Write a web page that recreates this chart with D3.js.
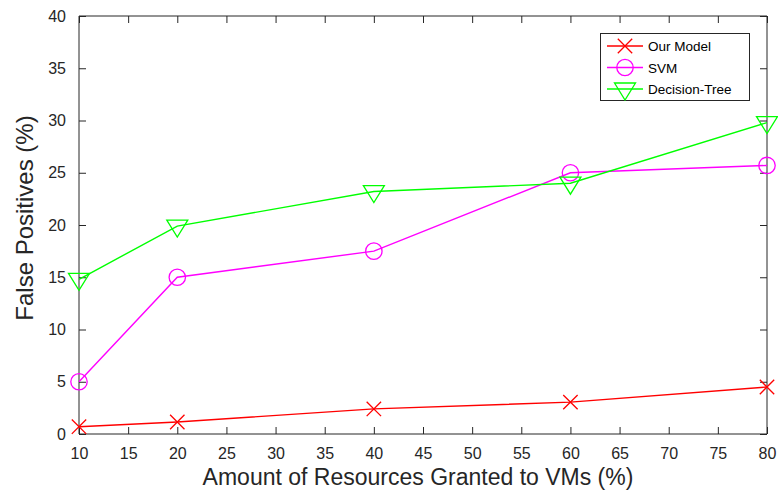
<!DOCTYPE html>
<html><head><meta charset="utf-8">
<script src="https://cdn.jsdelivr.net/npm/d3@7"></script>
<style>body{margin:0;background:#fff}svg{display:block;font-family:"Liberation Sans",Arial,sans-serif}</style>
</head><body>
<svg id="c" width="778" height="498"></svg>
<script>
const xValues = [10, 20, 40, 60, 80];
const ourModel = [0.7, 1.15, 2.4, 3.05, 4.5];
const svm = [5.0, 15.0, 17.5, 25.0, 25.7];
const decisionTree = [14.8, 19.9, 23.2, 24.0, 29.8];
const xTicks = [10,15,20,25,30,35,40,45,50,55,60,65,70,75,80];
const yTicks = [0,5,10,15,20,25,30,35,40];
const seriesNames = ["Our Model", "SVM", "Decision-Tree"];
const seriesColors = ["#ff0000", "#ff00ff", "#00ff00"];
const seriesMarkers = ["x", "circle", "tri"];

const svg = d3.select("#c");
const L = 79, R = 767, T = 16, B = 434;
const x = d3.scaleLinear().domain([10, 80]).range([L, R]);
const y = d3.scaleLinear().domain([0, 40]).range([B, T]);
const axisColor = "#262626";

// axes
const gx = svg.append("g").attr("transform", `translate(0,${B})`)
  .call(d3.axisBottom(x).tickValues(xTicks).tickSize(-7).tickPadding(13.5));
const gxt = svg.append("g").attr("transform", `translate(0,${T})`)
  .call(d3.axisTop(x).tickValues(xTicks).tickSize(-7).tickFormat(""));
const gy = svg.append("g").attr("transform", `translate(${L},0)`)
  .call(d3.axisLeft(y).tickValues(yTicks).tickSize(-7).tickPadding(13));
const gyr = svg.append("g").attr("transform", `translate(${R},0)`)
  .call(d3.axisRight(y).tickValues(yTicks).tickSize(-7).tickFormat(""));
[gx, gxt, gy, gyr].forEach(g => {
  g.attr("font-size", 16).attr("font-family", '"Liberation Sans",Arial,sans-serif');
  g.selectAll("path,line").attr("stroke", axisColor).attr("stroke-width", 1);
  g.selectAll("text").attr("fill", axisColor);
});
gx.selectAll("path").attr("d", `M${L},0H${R}`);
gxt.selectAll("path").attr("d", `M${L},0H${R}`);
gy.selectAll("path").attr("d", `M0,${T}V${B}`);
gyr.selectAll("path").attr("d", `M0,${T}V${B}`);

// axis labels
svg.append("text").attr("x", 418).attr("y", 485).attr("text-anchor", "middle")
  .attr("fill", axisColor).style("font-size", "23px").text("Amount of Resources Granted to VMs (%)");
svg.append("text").attr("transform", `translate(33,218) rotate(-90)`)
  .attr("text-anchor", "middle").attr("fill", axisColor).style("font-size", "24px")
  .text("False Positives (%)");

function drawMarker(g, type, cx, cy, color) {
  if (type === "x") {
    const s = 7.2;
    g.append("path").attr("d", `M${cx-s},${cy-s}L${cx+s},${cy+s}M${cx-s},${cy+s}L${cx+s},${cy-s}`)
      .attr("stroke", color).attr("stroke-width", 1.3).attr("fill", "none");
  } else if (type === "circle") {
    g.append("circle").attr("cx", cx).attr("cy", cy).attr("r", 8.2)
      .attr("stroke", color).attr("stroke-width", 1.3).attr("fill", "none");
  } else {
    const w = 10.5, h1 = 6, h2 = 11;
    g.append("path").attr("d", `M${cx-w},${cy-h1}L${cx+w},${cy-h1}L${cx},${cy+h2}Z`)
      .attr("stroke", color).attr("stroke-width", 1.3).attr("fill", "none");
  }
}

const allSeries = [ourModel, svm, decisionTree];
const line = d3.line().x((d, i) => x(xValues[i])).y(d => y(d));
allSeries.forEach((vals, si) => {
  const g = svg.append("g");
  g.append("path").datum(vals).attr("d", line).attr("fill", "none")
    .attr("stroke", seriesColors[si]).attr("stroke-width", 1.4);
  vals.forEach((v, i) => drawMarker(g, seriesMarkers[si], x(xValues[i]), y(v), seriesColors[si]));
});

// legend
const lg = svg.append("g");
lg.append("rect").attr("x", 600.5).attr("y", 33.5).attr("width", 149).attr("height", 67)
  .attr("fill", "#fff").attr("stroke", axisColor).attr("stroke-width", 1);
seriesNames.forEach((name, i) => {
  const yy = 46 + i * 21.5;
  lg.append("line").attr("x1", 607).attr("x2", 643).attr("y1", yy).attr("y2", yy)
    .attr("stroke", seriesColors[i]).attr("stroke-width", 1.4);
  drawMarker(lg, seriesMarkers[i], 625, yy, seriesColors[i]);
  lg.append("text").attr("x", 648).attr("y", yy + 5).attr("fill", "#000")
    .style("font-size", "13.5px").text(name);
});
</script>
</body></html>
